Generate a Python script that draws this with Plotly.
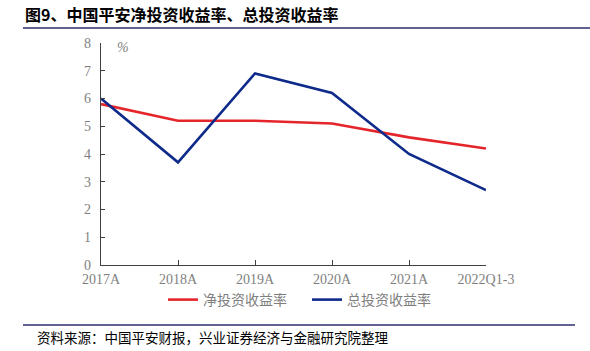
import plotly.graph_objects as go

categories = ["2017A", "2018A", "2019A", "2020A", "2021A", "2022Q1-3"]
net_yield = [5.8, 5.2, 5.2, 5.1, 4.6, 4.2]
total_yield = [6.0, 3.7, 6.9, 6.2, 4.0, 2.7]
y_ticks = [0, 1, 2, 3, 4, 5, 6, 7, 8]

L, R, T, B = 101, 104, 43, 86
W, H = 590, 351
pw, ph = W - L - R, H - T - B

def px(x):
    return (x - L) / pw

def py(y):
    return (H - B - y) / ph

fig = go.Figure()
fig.add_trace(go.Scatter(x=categories, y=net_yield, mode="lines", name="净投资收益率",
                         line=dict(color="#e4262b", width=2.6)))
fig.add_trace(go.Scatter(x=categories, y=total_yield, mode="lines", name="总投资收益率",
                         line=dict(color="#0e2a8a", width=2.6)))

tick_font = dict(family="Liberation Serif, Times New Roman, serif", size=14, color="#7f7f7f")

fig.update_layout(
    width=W, height=H,
    margin=dict(l=L, r=R, t=T, b=B),
    paper_bgcolor="white", plot_bgcolor="white",
    showlegend=True,
    legend=dict(orientation="h", x=px(163), xanchor="left", y=py(300), yanchor="middle",
                font=dict(family="Noto Sans CJK SC", size=14, color="#7f7f7f"),
                entrywidth=99, entrywidthmode="pixels",
                itemwidth=30, tracegroupgap=0, bgcolor="rgba(0,0,0,0)"),
    xaxis=dict(type="category", range=[0, 5], showgrid=False, zeroline=False,
               showline=True, linecolor="#404040", linewidth=1.2,
               ticks="inside", ticklen=5, tickcolor="#404040",
               tickfont=tick_font, ticklabelstandoff=1),
    yaxis=dict(range=[0, 8], tickvals=y_ticks, showgrid=False, zeroline=False,
               showline=True, linecolor="#404040", linewidth=1.2,
               ticks="inside", ticklen=4, tickcolor="#404040",
               tickfont=tick_font, ticklabelstandoff=6),
)

fig.add_annotation(text="<b>图9、中国平安净投资收益率、总投资收益率</b>", xref="paper", yref="paper",
                   x=px(23), y=py(14), xanchor="left", yanchor="middle", showarrow=False,
                   font=dict(family="Noto Sans CJK SC", size=16, color="#000000"))
fig.add_annotation(text="<i>%</i>", xref="paper", yref="paper", x=px(115), y=py(47),
                   xanchor="left", yanchor="middle", showarrow=False,
                   font=dict(family="Liberation Serif", size=14, color="#7f7f7f"))
fig.add_annotation(text="资料来源：中国平安财报，兴业证券经济与金融研究院整理", xref="paper", yref="paper",
                   x=px(35), y=py(337), xanchor="left", yanchor="middle", showarrow=False,
                   font=dict(family="Noto Sans CJK SC", size=13.5, color="#000000"))

fig.add_shape(type="line", xref="paper", yref="paper", x0=px(23), x1=px(590), y0=py(28), y1=py(28),
              line=dict(color="#2e2e6e", width=1.5))
fig.add_shape(type="line", xref="paper", yref="paper", x0=px(23), x1=px(575), y0=py(325), y1=py(325),
              line=dict(color="#2e2e6e", width=1.5))

fig.write_html("out.html")
